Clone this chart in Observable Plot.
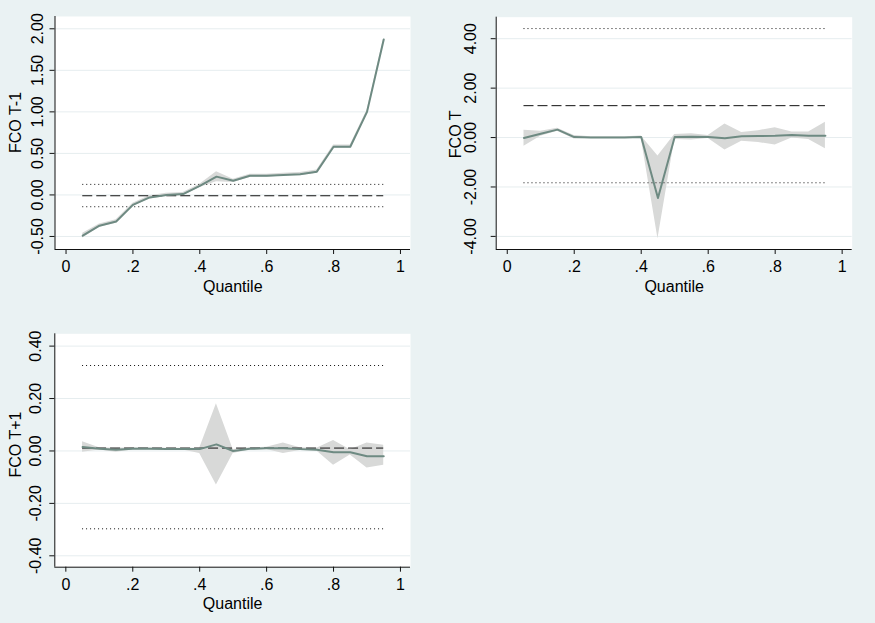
<!DOCTYPE html>
<html>
<head>
<meta charset="utf-8">
<script src="https://cdn.jsdelivr.net/npm/d3@7"></script>
<script src="https://cdn.jsdelivr.net/npm/@observablehq/plot@0.6"></script>
<style>
  html, body { margin: 0; padding: 0; background: #eaf2f3; }
  #chart { position: relative; width: 875px; height: 623px; background: #eaf2f3; overflow: hidden; }
  #chart svg { position: absolute; overflow: visible; }
</style>
</head>
<body>
<div id="chart"></div>
<script>
// Quantiles
const quantiles = [0.05,0.10,0.15,0.20,0.25,0.30,0.35,0.40,0.45,0.50,0.55,0.60,0.65,0.70,0.75,0.80,0.85,0.90,0.95];
const xTicks = [0, 0.2, 0.4, 0.6, 0.8, 1];
const xTickLabels = ["0", ".2", ".4", ".6", ".8", "1"];

// Panel 1: FCO T-1
const p1Coef = [-0.49,-0.37,-0.32,-0.12,-0.03,0.00,0.01,0.11,0.22,0.17,0.23,0.23,0.24,0.25,0.28,0.58,0.58,1.00,1.87];
const p1Lo   = [-0.52,-0.39,-0.34,-0.14,-0.05,-0.02,-0.01,0.09,0.16,0.15,0.21,0.21,0.23,0.23,0.26,0.56,0.56,0.98,1.85];
const p1Hi   = [-0.46,-0.35,-0.30,-0.10,-0.01,0.02,0.03,0.13,0.28,0.19,0.25,0.25,0.26,0.27,0.30,0.60,0.60,1.02,1.89];
const p1Ols = -0.01, p1OlsLo = -0.142, p1OlsHi = 0.127;
const p1YTicks = [-0.5, 0, 0.5, 1, 1.5, 2];

// Panel 2: FCO T
const p2Coef = [-0.02,0.15,0.32,0.02,0.00,0.00,0.00,0.02,-2.45,0.02,0.03,0.02,-0.03,0.05,0.06,0.07,0.10,0.07,0.07];
const p2Lo   = [-0.35,0.05,0.26,-0.06,-0.03,-0.03,-0.03,-0.02,-4.10,-0.08,-0.10,-0.04,-0.50,-0.15,-0.20,-0.30,-0.02,-0.08,-0.45];
const p2Hi   = [0.30,0.25,0.38,0.08,0.03,0.03,0.03,0.06,-0.75,0.12,0.15,0.08,0.55,0.20,0.28,0.40,0.22,0.22,0.62];
const p2Ols = 1.29, p2OlsLo = -1.83, p2OlsHi = 4.41;
const p2YTicks = [-4, -2, 0, 2, 4];

// Panel 3: FCO T+1
const p3Coef = [0.015,0.008,0.005,0.008,0.008,0.007,0.007,0.007,0.025,0.000,0.008,0.010,0.010,0.007,0.005,-0.005,-0.005,-0.020,-0.020];
const p3Lo   = [-0.005,0.004,-0.005,0.004,0.005,0.004,0.004,-0.010,-0.130,-0.010,0.004,0.006,-0.010,0.002,0.000,-0.055,-0.015,-0.065,-0.055];
const p3Hi   = [0.035,0.012,0.010,0.012,0.011,0.010,0.010,0.010,0.180,0.006,0.012,0.014,0.030,0.012,0.010,0.040,0.005,0.030,0.022];
const p3Ols = 0.011, p3OlsLo = -0.297, p3OlsHi = 0.326;
const p3YTicks = [-0.4, -0.2, 0, 0.2, 0.4];

const lineColor = "#6e8a82";
const bandColor = "#d8d9d8";
const gridColor = "#e6edef";
const xDomain = [-0.033, 1.03];
const FS = 16;

function panel(cfg) {
  const rows = quantiles.map((q, i) => ({q, b: cfg.coef[i], lo: cfg.lo[i], hi: cfg.hi[i]}));
  const svg = Plot.plot({
    width: cfg.width,
    height: cfg.height,
    marginLeft: cfg.ml,
    marginRight: cfg.mr,
    marginTop: cfg.mt,
    marginBottom: cfg.mb,
    x: {domain: xDomain},
    y: {domain: cfg.yDomain},
    style: {background: "transparent", fontFamily: "'Liberation Sans', Arial, sans-serif", fontSize: "16px", color: "#000", overflow: "visible"},
    marks: [
      Plot.frame({fill: "white", stroke: null}),
      Plot.gridY(cfg.yTicks, {stroke: gridColor, strokeOpacity: 1}),
      Plot.areaY(rows, {x: "q", y1: "lo", y2: "hi", fill: bandColor}),
      Plot.ruleY([cfg.olsLo, cfg.olsHi], {x1: quantiles[0], x2: quantiles[quantiles.length - 1], stroke: "#111", strokeDasharray: "1,3", strokeWidth: 1}),
      Plot.ruleY([cfg.ols], {x1: quantiles[0], x2: quantiles[quantiles.length - 1], stroke: "#111", strokeDasharray: "10,4", strokeWidth: 1}),
      Plot.line(rows, {x: "q", y: "b", stroke: lineColor, strokeWidth: 2}),
      Plot.ruleX([xDomain[0]], {stroke: "#111"}),
      Plot.ruleY([cfg.yDomain[0]], {stroke: "#111"}),
      Plot.axisX({ticks: xTicks, tickFormat: (d) => xTickLabels[xTicks.indexOf(d)], tickSize: 5, tickPadding: 6, label: null, stroke: "#111", fill: "#000", fontSize: FS}),
      Plot.axisY({ticks: cfg.yTicks, tickFormat: () => "", tickSize: 5, label: null, stroke: "#111"}),
      Plot.text(cfg.yTicks, {y: (d) => d, text: (d) => d.toFixed(2), frameAnchor: "left", textAnchor: "middle", lineAnchor: "middle", rotate: -90, dx: cfg.tickDx, fill: "#000", fontSize: FS}),
      Plot.text([cfg.title], {frameAnchor: "left", textAnchor: "middle", lineAnchor: "middle", rotate: -90, dx: cfg.titleDx, dy: cfg.titleDy, fill: "#000", fontSize: FS}),
      Plot.text(["Quantile"], {frameAnchor: "bottom", textAnchor: "middle", lineAnchor: "middle", dy: 37, fill: "#000", fontSize: FS})
    ]
  });
  svg.style.left = cfg.left + "px";
  svg.style.top = cfg.top + "px";
  return svg;
}

const chart = document.getElementById("chart");
chart.append(panel({
  coef: p1Coef, lo: p1Lo, hi: p1Hi, ols: p1Ols, olsLo: p1OlsLo, olsHi: p1OlsHi,
  yDomain: [-0.657, 2.148], yTicks: p1YTicks, title: "FCO T-1",
  left: 0, top: 0, width: 420, height: 300, ml: 54.5, mr: 10, mt: 16, mb: 51,
  tickDx: -17.5, titleDx: -39, titleDy: -10.5
}));
chart.append(panel({
  coef: p2Coef, lo: p2Lo, hi: p2Hi, ols: p2Ols, olsLo: p2OlsLo, olsHi: p2OlsHi,
  yDomain: [-4.53, 4.87], yTicks: p2YTicks, title: "FCO T",
  left: 430, top: 0, width: 430, height: 300, ml: 65.7, mr: 8.3, mt: 16.7, mb: 51,
  tickDx: -25.5, titleDx: -40.5, titleDy: 1
}));
chart.append(panel({
  coef: p3Coef, lo: p3Lo, hi: p3Hi, ols: p3Ols, olsLo: p3OlsLo, olsHi: p3OlsHi,
  yDomain: [-0.4435, 0.447], yTicks: p3YTicks, title: "FCO T+1",
  left: 0, top: 320, width: 420, height: 300, ml: 54.3, mr: 10, mt: 13.3, mb: 53.3,
  tickDx: -19.3, titleDx: -38.8, titleDy: -6
}));
</script>
</body>
</html>
